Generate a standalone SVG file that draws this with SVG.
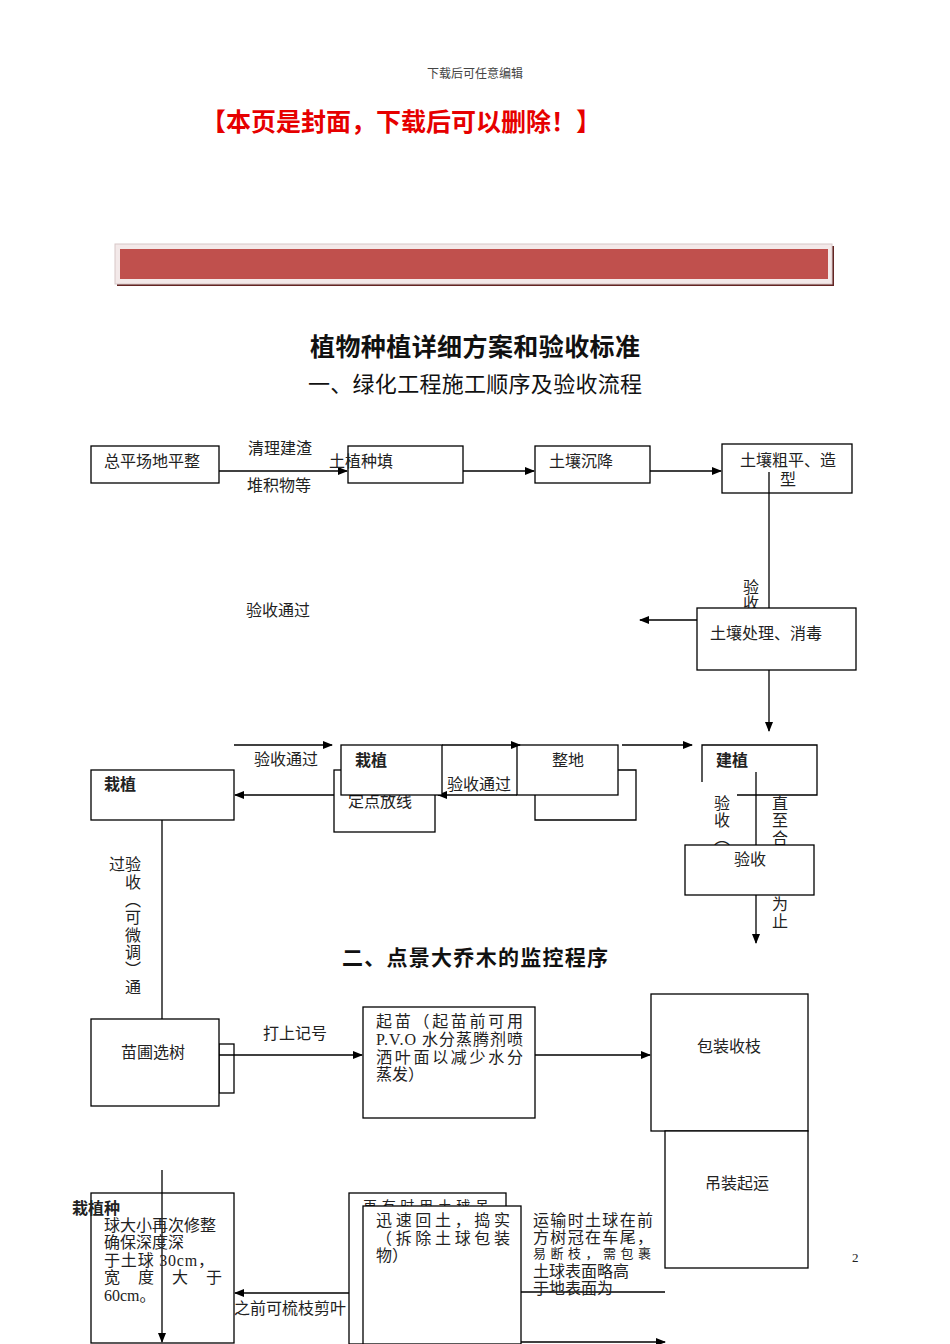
<svg xmlns="http://www.w3.org/2000/svg" width="950" height="1344" viewBox="0 0 950 1344">
<defs>
<marker id="ah" markerWidth="10" markerHeight="8" refX="9" refY="4" orient="auto" markerUnits="userSpaceOnUse">
<path d="M0,0 L10,4 L0,8 Z" fill="#000"/>
</marker>
<style>
.t{font-family:"Liberation Serif","Noto Sans CJK SC",serif;font-size:16px;fill:#222}
.b{fill:#fff;stroke:#000;stroke-width:1.3}
.bn{fill:none;stroke:#000;stroke-width:1.3}
.c{stroke:#000;stroke-width:1.3;fill:none}
.a{stroke:#000;stroke-width:1.3;fill:none;marker-end:url(#ah)}
.h{font-family:"Noto Sans CJK SC","Liberation Sans",sans-serif;font-weight:bold;fill:#111}
</style>
</defs>
<rect width="950" height="1344" fill="#fff"/>
<g id="header">
<text x="475" y="78" text-anchor="middle" class="t" style="font-size:12px;fill:#444">下载后可任意编辑</text>
<text x="401" y="131" text-anchor="middle" class="h" style="font-size:25px;fill:#e60000" textLength="400" lengthAdjust="spacing">【本页是封面，下载后可以删除！】</text>
<rect x="117" y="246" width="717" height="40" fill="#632523"/>
<rect x="115" y="244" width="717" height="40" fill="#f3e9e9" stroke="#d8c8c8" stroke-width="1"/>
<rect x="120" y="249" width="708" height="30" fill="#c0504d"/>
<text x="475" y="356" text-anchor="middle" class="h" style="font-size:25px" textLength="330" lengthAdjust="spacing">植物种植详细方案和验收标准</text>
<text x="475" y="392" text-anchor="middle" class="h" style="font-size:22px;font-weight:normal" textLength="334" lengthAdjust="spacing">一、绿化工程施工顺序及验收流程</text>
<text x="475" y="965" text-anchor="middle" class="h" style="font-size:21px" textLength="266" lengthAdjust="spacing">二、点景大乔木的监控程序</text>
<text x="852" y="1262" class="t" style="font-size:13px">2</text>
</g>
<g id="connectors">
<path class="a" d="M219,471 H347"/>
<path class="a" d="M463,471 H534"/>
<path class="a" d="M650,471 H721"/>
<path class="c" d="M769,472 V608"/>
<path class="a" d="M697,620 H640"/>
<path class="a" d="M769,670 V731"/>
<path class="a" d="M234,745 H332"/>
<path class="a" d="M334,795 H235"/>
<path class="a" d="M442,745 H520"/>
<path class="a" d="M517,795 H438"/>
<path class="a" d="M622,745 H692"/>
<path class="a" d="M756,772 V943"/>
<path class="c" d="M162,820 V1019"/>
<path class="a" d="M219,1055 H362"/>
<path class="a" d="M535,1055 H650"/>
<path class="a" d="M162,1170 V1342"/>
<path class="a" d="M349,1293 H235"/>
<path class="c" d="M521,1292 H665"/>
<path class="a" d="M521,1342 H665"/>
</g>
<g id="n1"><rect class="b" x="91" y="446" width="128" height="37"/><text class="t" x="104" y="467">总平场地平整</text></g>
<g id="l1"><text class="t" x="248" y="454">清理建渣</text><text class="t" x="247" y="491">堆积物等</text></g>
<g id="n2"><rect class="bn" x="348" y="446" width="115" height="37"/><text class="t" x="329" y="467">土植种填</text></g>
<g id="n3"><rect class="b" x="535" y="446" width="115" height="37"/><text class="t" x="549" y="467">土壤沉降</text></g>
<g id="n4"><rect class="bn" x="722" y="444" width="130" height="49"/><text class="t" x="740" y="466">土壤粗平、造</text><text class="t" x="780" y="485">型</text></g>
<g id="l2"><text class="t" x="743" y="593">验</text><text class="t" x="743" y="609">收</text><text class="t" x="246" y="616">验收通过</text></g>
<g id="n5"><rect class="b" x="697" y="608" width="159" height="62"/><text class="t" x="710" y="639">土壤处理、消毒</text></g>
<g id="n6"><rect class="bn" x="91" y="770" width="143" height="50"/><text class="t" x="104" y="790" style="font-weight:bold">栽植</text></g>
<g id="l3"><text class="t" x="254" y="765">验收通过</text><text class="t" x="447" y="790">验收通过</text></g>
<g id="n7"><rect class="bn" x="334" y="770" width="101" height="62"/><text class="t" x="348" y="807">定点放线</text></g>
<g id="n8"><rect class="b" x="341" y="745" width="101" height="50"/><text class="t" x="355" y="766" style="font-weight:bold">栽植</text></g>
<g id="n9"><path class="c" d="M618,770 H636 V820 H535 V795"/><rect class="bn" x="517" y="745" width="101" height="50"/><text class="t" x="552" y="766">整地</text></g>
<g id="n10"><path class="c" d="M702,782 V745 H817 V795 H737"/><text class="t" x="716" y="766" style="font-weight:bold">建植</text></g>
<g id="l4"><text class="t" x="714" y="809">验</text><text class="t" x="714" y="826">收</text><text class="t" x="714" y="844">︵</text><text class="t" x="772" y="809">直</text><text class="t" x="772" y="826">至</text><text class="t" x="772" y="844">合</text><text class="t" x="772" y="910">为</text><text class="t" x="772" y="927">止</text></g>
<g id="n11"><rect class="b" x="685" y="845" width="129" height="50"/><text class="t" x="734" y="865">验收</text></g>
<g id="l5"><text class="t" x="109" y="870">过验</text><text class="t" x="125" y="888">收</text><text class="t" x="125" y="906">︵</text><text class="t" x="125" y="923">可</text><text class="t" x="125" y="941">微</text><text class="t" x="125" y="958">调</text><text class="t" x="125" y="975">︶</text><text class="t" x="125" y="993">通</text></g>
<g id="m1"><rect class="bn" x="219" y="1044" width="15" height="49"/><rect class="b" x="91" y="1019" width="128" height="87"/><text class="t" x="121" y="1058">苗圃选树</text></g>
<g id="l6"><text class="t" x="263" y="1039">打上记号</text></g>
<g id="m2"><rect class="b" x="363" y="1007" width="172" height="111"/>
<text class="t" x="376" y="1027" textLength="147" lengthAdjust="spacing">起苗（起苗前可用</text>
<text class="t" x="376" y="1045" textLength="147" lengthAdjust="spacing">P.V.O 水分蒸腾剂喷</text>
<text class="t" x="376" y="1063" textLength="147" lengthAdjust="spacing">洒叶面以减少水分</text>
<text class="t" x="376" y="1080">蒸发）</text></g>
<g id="m3"><rect class="b" x="651" y="994" width="157" height="137"/><text class="t" x="697" y="1052">包装收枝</text></g>
<g id="m4"><rect class="b" x="665" y="1131" width="143" height="137"/><text class="t" x="705" y="1189">吊装起运</text></g>
<g id="m5"><rect class="bn" x="91" y="1193" width="143" height="150"/>
<text class="t" x="72" y="1214" style="font-weight:bold">栽植种</text>
<text class="t" x="104" y="1231">球大小再次修整</text>
<text class="t" x="104" y="1248">确保深度深</text>
<text class="t" x="104" y="1266" textLength="110" lengthAdjust="spacing">于土球 30cm，</text>
<text class="t" x="104" y="1283" textLength="118" lengthAdjust="spacing">宽度大于</text>
<text class="t" x="104" y="1301">60cm。</text></g>
<g id="l7"><text class="t" x="234" y="1314">之前可梳枝剪叶</text></g>
<g id="m6"><rect class="b" x="349" y="1193" width="157" height="151"/><text class="t" x="363" y="1211" style="font-size:14px" textLength="126" lengthAdjust="spacing">再有时用土球吊</text></g>
<g id="m7"><rect class="b" x="363" y="1206" width="158" height="138"/>
<text class="t" x="376" y="1226" textLength="134" lengthAdjust="spacing">迅速回土，捣实</text>
<text class="t" x="376" y="1244" textLength="134" lengthAdjust="spacing">（拆除土球包装</text>
<text class="t" x="376" y="1261">物）</text></g>
<g id="l8">
<text class="t" x="533" y="1226" textLength="120" lengthAdjust="spacing">运输时土球在前</text>
<text class="t" x="533" y="1243" textLength="120" lengthAdjust="spacing">方树冠在车尾，</text>
<text class="t" x="533" y="1258" style="font-size:13px" textLength="118" lengthAdjust="spacing">易断枝，需包裹</text>
<text class="t" x="533" y="1277">土球表面略高</text>
<text class="t" x="533" y="1294">于地表面为</text></g>
</svg>
